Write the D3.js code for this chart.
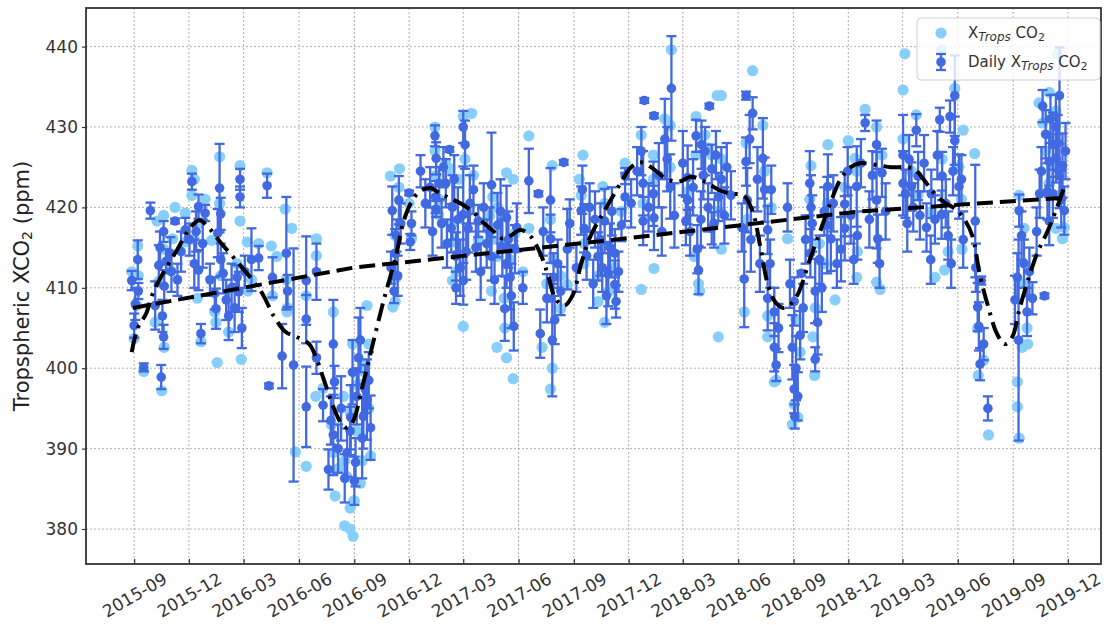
<!DOCTYPE html>
<html>
<head>
<meta charset="utf-8">
<script src="https://cdn.jsdelivr.net/npm/d3@7"></script>
<style>
  body { margin: 0; background: #fff; }
  svg { display: block; font-family: "DejaVu Sans", sans-serif; }
</style>
</head>
<body>
<svg id="chart" width="1104" height="625"></svg>
<script>
// quarter ticks on the time axis
const xTickDates = [
  "2015-09-01", "2015-12-01", "2016-03-01", "2016-06-01", "2016-09-01", "2016-12-01",
  "2017-03-01", "2017-06-01", "2017-09-01", "2017-12-01", "2018-03-01", "2018-06-01",
  "2018-09-01", "2018-12-01", "2019-03-01", "2019-06-01", "2019-09-01", "2019-12-01"
];
const yTicks = [380, 390, 400, 410, 420, 430, 440];

// single XTrops CO2 retrievals [date, ppm]
const singleObs = [
  ["2015-08-28", 412.0], ["2015-09-01", 403.7], ["2015-09-17", 399.6], ["2015-09-05", 407.8],
  ["2015-10-17", 397.2], ["2015-10-21", 402.6], ["2015-10-06", 405.7], ["2015-10-09", 418.3],
  ["2015-10-20", 414.8], ["2015-11-04", 416.1], ["2015-11-25", 419.3], ["2015-12-06", 424.6],
  ["2015-12-10", 423.5], ["2015-11-25", 415.7], ["2015-12-21", 403.3], ["2015-12-15", 408.7],
  ["2016-01-08", 415.9], ["2016-01-21", 426.3], ["2016-01-15", 405.7], ["2016-01-17", 400.7],
  ["2016-02-24", 425.2], ["2016-02-24", 418.3], ["2016-02-26", 401.1], ["2016-03-08", 409.6],
  ["2016-03-07", 415.7], ["2016-04-09", 424.3], ["2016-04-16", 415.2], ["2016-04-25", 413.9],
  ["2016-05-09", 419.8], ["2016-05-20", 417.4], ["2016-05-12", 407.0], ["2016-05-26", 389.6],
  ["2016-06-13", 387.8], ["2016-06-30", 416.1], ["2016-06-29", 396.5], ["2016-07-28", 407.0],
  ["2016-07-25", 393.0], ["2016-07-31", 384.1], ["2016-08-16", 380.4], ["2016-08-30", 379.1],
  ["2016-08-25", 382.6], ["2016-08-14", 396.5],
  ["2016-08-25", 380.0], ["2016-09-11", 385.7], ["2016-08-31", 383.5], ["2016-09-22", 407.8],
  ["2016-09-25", 403.0], ["2016-09-05", 392.2], ["2016-09-28", 389.1], ["2016-09-17", 399.6],
  ["2016-10-31", 423.9], ["2016-11-15", 424.8], ["2016-11-08", 408.3], ["2016-11-04", 407.6],
  ["2016-11-10", 411.3], ["2016-12-05", 416.1], ["2017-03-01", 431.3], ["2017-03-15", 431.7],
  ["2017-01-13", 430.0], ["2017-02-07", 424.8], ["2017-03-01", 405.2], ["2017-02-11", 410.9],
  ["2017-02-22", 423.5], ["2017-01-19", 419.1], ["2017-02-16", 415.7], ["2017-04-19", 421.3],
  ["2017-04-26", 413.9], ["2017-05-12", 424.3], ["2017-05-23", 423.5], ["2017-04-26", 402.6],
  ["2017-05-23", 398.7], ["2017-05-12", 401.3], ["2017-06-18", 428.9], ["2017-06-18", 417.4],
  ["2017-04-17", 409.6], ["2017-05-08", 408.7], ["2017-07-27", 425.2], ["2017-07-10", 402.6],
  ["2017-07-24", 397.4], ["2017-07-27", 400.0], ["2017-08-10", 407.4], ["2017-08-21", 410.4],
  ["2017-09-16", 426.5], ["2017-09-10", 423.5], ["2017-09-18", 413.0], ["2017-10-11", 408.3],
  ["2017-10-22", 405.7], ["2017-10-19", 422.6],
  ["2017-12-22", 409.8], ["2018-01-12", 412.4], ["2018-01-11", 426.5], ["2018-02-10", 439.6],
  ["2018-02-08", 430.2], ["2018-03-23", 431.3], ["2018-03-20", 413.9], ["2018-03-29", 409.6],
  ["2018-04-29", 403.9], ["2018-05-04", 414.8], ["2018-04-27", 433.9], ["2018-04-12", 427.4],
  ["2018-05-04", 433.9], ["2018-06-25", 437.0], ["2018-07-12", 430.2], ["2018-06-11", 407.0],
  ["2018-07-20", 403.9], ["2018-07-31", 398.3], ["2018-08-30", 393.0], ["2018-09-08", 393.9],
  ["2018-09-05", 406.1], ["2018-10-06", 399.1], ["2018-09-30", 425.2], ["2018-10-03", 403.9],
  ["2018-10-28", 427.8], ["2018-10-22", 413.0], ["2018-08-22", 416.1],
  ["2019-03-05", 439.1], ["2019-03-02", 434.6], ["2019-05-05", 439.6], ["2019-05-27", 434.8],
  ["2019-06-10", 429.6], ["2019-06-29", 426.7], ["2018-12-12", 426.1], ["2018-12-01", 428.3],
  ["2018-12-29", 432.2], ["2019-01-17", 410.7], ["2019-01-23", 409.8], ["2018-12-15", 411.3],
  ["2018-11-09", 408.5], ["2019-04-24", 411.3], ["2019-05-10", 412.2], ["2019-06-08", 414.8],
  ["2019-07-05", 399.1], ["2019-07-22", 391.7], ["2019-09-08", 398.3], ["2019-09-08", 395.2],
  ["2019-09-11", 391.3], ["2019-09-16", 402.6], ["2019-09-25", 403.0], ["2019-09-19", 417.4],
  ["2019-11-22", 416.1], ["2019-11-11", 417.4], ["2019-11-14", 439.1], ["2019-10-31", 434.3],
  ["2019-10-14", 433.0],
  // retrievals sitting behind the daily means
  ["2015-09-07", 415.2], ["2015-09-08", 411.5], ["2015-10-12", 410.8], ["2015-10-20", 419.0],
  ["2015-10-31", 412.2], ["2015-11-08", 420.0], ["2015-12-06", 421.5], ["2015-12-17", 418.0],
  ["2015-12-10", 416.0], ["2015-12-28", 421.0], ["2016-01-23", 411.5], ["2016-01-21", 420.5],
  ["2016-01-13", 407.0], ["2016-02-19", 413.0], ["2016-02-05", 404.5], ["2016-03-14", 411.0],
  ["2016-03-26", 415.5], ["2016-04-18", 409.0], ["2016-05-11", 411.0], ["2016-05-13", 407.5],
  ["2016-06-13", 409.0], ["2016-06-30", 414.0], ["2016-07-11", 397.5], ["2016-07-28", 389.5],
  ["2016-08-16", 388.5], ["2016-08-25", 394.5], ["2016-08-05", 387.5], ["2016-08-20", 386.5],
  ["2016-09-01", 383.5], ["2016-09-14", 388.5], ["2016-09-19", 400.5], ["2016-08-29", 403.0],
  ["2016-09-08", 398.0], ["2016-09-25", 395.0], ["2016-11-06", 411.5], ["2016-11-08", 416.5],
  ["2016-11-14", 422.5], ["2016-12-01", 420.5], ["2017-01-13", 427.0], ["2017-01-15", 424.0],
  ["2017-01-20", 421.0], ["2017-01-31", 425.5], ["2017-02-11", 418.0], ["2017-02-17", 412.0],
  ["2017-03-04", 426.0], ["2017-03-09", 419.5], ["2017-03-18", 424.0], ["2017-03-26", 416.0],
  ["2017-04-14", 419.0], ["2017-04-17", 416.0], ["2017-04-27", 420.0], ["2017-05-18", 413.5],
  ["2017-05-26", 416.8], ["2017-06-08", 412.0], ["2017-05-09", 405.0], ["2017-07-18", 410.5],
  ["2017-07-24", 418.5], ["2017-07-29", 413.5], ["2017-08-10", 411.5], ["2017-09-13", 421.5],
  ["2017-09-18", 415.5], ["2017-10-11", 411.5], ["2017-10-22", 420.5], ["2017-10-28", 409.5],
  ["2017-11-08", 412.5], ["2017-11-19", 419.5], ["2017-11-25", 425.5], ["2017-12-22", 429.0],
  ["2017-12-25", 420.5], ["2018-01-11", 423.5], ["2018-01-30", 431.0], ["2018-02-08", 425.0],
  ["2018-03-09", 422.0], ["2018-03-23", 426.5], ["2018-03-27", 410.5], ["2018-04-07", 429.0],
  ["2018-04-18", 426.5], ["2018-04-29", 419.5], ["2018-05-04", 426.0], ["2018-06-14", 428.0],
  ["2018-06-16", 418.5], ["2018-07-15", 424.5], ["2018-07-26", 420.0], ["2018-07-20", 406.5],
  ["2018-08-03", 398.5], ["2018-09-02", 395.5], ["2018-09-12", 402.0], ["2018-09-28", 421.0],
  ["2018-10-07", 407.5], ["2018-10-14", 415.5], ["2018-10-27", 420.5], ["2018-11-25", 422.5],
  ["2018-12-15", 424.5], ["2018-12-16", 414.5], ["2019-01-17", 430.0], ["2019-01-26", 426.5],
  ["2019-03-02", 428.5], ["2019-03-16", 424.5], ["2019-03-24", 431.5], ["2019-03-27", 421.5],
  ["2019-04-18", 419.5], ["2019-05-06", 426.0], ["2019-05-16", 414.5], ["2019-06-03", 425.0],
  ["2019-06-07", 421.0], ["2019-07-04", 405.0], ["2019-07-14", 401.0], ["2019-09-11", 421.5],
  ["2019-09-19", 410.5], ["2019-09-24", 405.0], ["2019-10-20", 430.5], ["2019-10-25", 427.0],
  ["2019-11-06", 425.5], ["2019-11-11", 432.0], ["2019-11-17", 421.5], ["2019-11-25", 417.5],
  ["2019-10-31", 423.0]
];

// daily means [date, ppm, error]
const dailyObs = [
  ["2015-08-28", 410.9, 1.2], ["2015-09-07", 413.5, 2.4], ["2015-09-08", 409.6, 1.0],
  ["2015-09-01", 405.3, 1.5], ["2015-09-17", 400.1, 0.5], ["2015-09-28", 419.6, 1.0],
  ["2015-10-06", 407.8, 3.0], ["2015-10-12", 412.8, 2.5], ["2015-10-16", 398.9, 1.5],
  ["2015-10-20", 417.0, 1.3], ["2015-10-21", 410.2, 2.0], ["2015-10-20", 403.9, 1.5],
  ["2015-10-31", 414.3, 2.0], ["2015-11-08", 418.3, 0.3], ["2015-11-25", 417.2, 1.5],
  ["2015-12-06", 423.2, 1.0], ["2015-12-17", 420.1, 1.5], ["2015-12-10", 413.0, 3.0],
  ["2015-12-17", 412.2, 2.5], ["2015-12-21", 404.3, 1.2], ["2015-12-28", 419.3, 1.0],
  ["2016-01-21", 422.4, 5.5], ["2016-01-23", 419.2, 2.0], ["2016-01-23", 413.5, 2.0],
  ["2016-01-15", 407.4, 2.5], ["2016-01-13", 409.3, 2.0], ["2016-02-05", 406.5, 3.0],
  ["2016-02-24", 423.5, 1.3], ["2016-02-24", 421.3, 1.3], ["2016-02-27", 405.0, 2.5],
  ["2016-02-19", 411.3, 1.5], ["2016-03-14", 413.5, 3.9], ["2016-03-26", 413.7, 1.5],
  ["2016-04-09", 422.7, 1.5], ["2016-04-12", 397.8, 0.3], ["2016-04-18", 411.3, 2.5],
  ["2016-05-04", 401.5, 4.0], ["2016-05-11", 414.3, 7.0], ["2016-05-13", 409.6, 2.0],
  ["2016-05-23", 400.4, 14.5], ["2016-06-13", 410.9, 5.5], ["2016-06-13", 406.1, 3.0],
  ["2016-06-13", 395.2, 5.0], ["2016-06-30", 412.0, 3.5], ["2016-06-30", 401.3, 2.0],
  ["2016-07-11", 395.4, 2.0], ["2016-07-28", 403.0, 5.5], ["2016-07-28", 391.7, 5.0],
  ["2016-07-20", 387.4, 2.5], ["2016-07-30", 398.3, 2.0], ["2016-08-16", 386.3, 3.0],
  ["2016-08-25", 392.2, 3.0],
  ["2015-09-03", 408.0, 2.0], ["2015-10-14", 415.0, 2.0], ["2015-10-18", 406.5, 2.0],
  ["2015-10-24", 413.3, 1.5], ["2015-11-02", 412.0, 2.5], ["2015-11-12", 411.0, 2.0],
  ["2015-11-18", 414.5, 2.5], ["2015-12-02", 416.0, 2.0], ["2015-12-13", 417.0, 2.5],
  ["2015-12-24", 415.5, 3.0], ["2016-01-05", 411.0, 2.0], ["2016-01-18", 416.8, 3.0],
  ["2016-01-27", 411.8, 2.5], ["2016-02-01", 408.5, 2.5], ["2016-02-10", 410.0, 3.0],
  ["2016-02-15", 407.5, 3.0], ["2016-02-22", 409.5, 2.5], ["2016-03-03", 412.0, 2.0],
  ["2016-08-05", 390.0, 3.0], ["2016-08-10", 395.0, 4.0], ["2016-08-20", 389.5, 3.0],
  ["2016-08-29", 399.5, 4.0], ["2016-09-01", 386.0, 3.0], ["2016-09-16", 394.0, 4.0],
  ["2016-09-25", 398.5, 3.5], ["2016-07-24", 393.5, 3.0],
  ["2016-08-26", 393.9, 4.0], ["2016-09-05", 396.5, 3.5], ["2016-09-08", 401.3, 5.0],
  ["2016-09-11", 403.5, 4.0], ["2016-09-19", 397.4, 3.0], ["2016-09-28", 392.6, 4.0],
  ["2016-09-03", 388.3, 3.0], ["2016-09-14", 391.3, 5.0], ["2016-09-22", 396.1, 5.0],
  ["2016-11-06", 409.6, 1.5], ["2016-11-08", 414.3, 3.0], ["2016-11-03", 419.6, 3.0],
  ["2016-11-10", 416.5, 2.0], ["2016-11-14", 420.9, 3.0], ["2016-12-01", 421.8, 0.3],
  ["2016-12-05", 418.0, 1.5], ["2016-12-03", 415.7, 1.0], ["2017-01-13", 428.9, 1.3],
  ["2017-01-15", 426.1, 2.0], ["2017-02-06", 427.2, 0.3], ["2017-01-14", 421.3, 2.0],
  ["2017-01-15", 419.8, 1.0], ["2017-01-20", 423.0, 2.0], ["2017-01-31", 423.0, 3.0],
  ["2017-02-11", 420.0, 4.0], ["2017-02-09", 417.4, 3.0], ["2017-02-17", 413.9, 3.0],
  ["2017-03-01", 430.0, 2.0], ["2017-03-04", 427.8, 3.0], ["2017-03-01", 419.1, 6.0],
  ["2017-03-01", 410.9, 3.0], ["2017-03-09", 417.4, 3.0], ["2017-03-18", 422.2, 3.0],
  ["2017-03-26", 418.3, 2.0], ["2017-02-17", 410.0, 2.0], ["2017-04-17", 422.8, 6.5],
  ["2017-04-14", 417.0, 3.0], ["2017-04-17", 413.9, 3.0], ["2017-04-27", 417.8, 4.0],
  ["2017-05-12", 418.7, 4.0], ["2017-05-09", 407.4, 4.0], ["2017-05-18", 411.3, 4.0],
  ["2017-05-24", 405.2, 3.0], ["2017-05-26", 414.8, 3.0], ["2017-06-08", 410.0, 2.0],
  ["2017-06-18", 423.3, 4.0], ["2017-07-04", 421.7, 0.3], ["2017-05-12", 413.0, 3.0],
  ["2016-11-01", 412.5, 2.0], ["2016-11-12", 411.5, 2.5], ["2016-11-17", 418.0, 2.5],
  ["2016-12-20", 424.5, 2.0], ["2016-12-28", 420.5, 3.0], ["2017-01-05", 422.5, 2.5],
  ["2017-01-09", 417.0, 3.0], ["2017-01-24", 418.0, 3.0], ["2017-01-27", 425.0, 2.5],
  ["2017-02-02", 415.5, 3.0], ["2017-02-14", 423.5, 3.0], ["2017-02-20", 418.5, 4.0],
  ["2017-02-24", 412.5, 3.5], ["2017-03-06", 414.5, 3.5], ["2017-03-12", 420.5, 3.5],
  ["2017-03-22", 415.0, 3.0], ["2017-03-30", 412.0, 3.5], ["2017-04-04", 420.0, 3.0],
  ["2017-04-09", 415.5, 3.0], ["2017-04-22", 411.0, 3.0], ["2017-05-02", 419.5, 4.0],
  ["2017-05-05", 415.0, 3.5], ["2017-05-15", 416.0, 3.5], ["2017-05-20", 409.0, 4.0],
  ["2017-05-29", 417.5, 3.0],
  ["2017-07-07", 404.3, 3.0], ["2017-07-18", 408.7, 3.0], ["2017-07-24", 420.9, 4.0],
  ["2017-07-24", 416.1, 3.0], ["2017-07-27", 403.5, 7.0], ["2017-07-29", 411.3, 3.0],
  ["2017-08-15", 425.6, 0.3], ["2017-08-10", 409.6, 3.0], ["2017-08-21", 414.8, 5.0],
  ["2017-09-13", 419.6, 3.0], ["2017-09-15", 422.2, 3.0], ["2017-09-18", 417.4, 3.0],
  ["2017-10-11", 413.9, 3.0], ["2017-10-22", 418.3, 4.0], ["2017-10-28", 411.7, 4.0],
  ["2017-10-15", 416.0, 4.5], ["2017-10-25", 409.0, 3.5],
  ["2017-07-12", 417.0, 3.0], ["2017-07-31", 406.0, 3.0], ["2017-08-05", 413.0, 3.0],
  ["2017-08-25", 418.0, 3.0], ["2017-09-05", 412.5, 3.0], ["2017-09-22", 414.0, 3.0],
  ["2017-09-27", 420.0, 3.0], ["2017-10-03", 410.5, 3.0], ["2017-10-06", 418.5, 3.5],
  ["2017-10-18", 412.5, 3.0], ["2017-10-31", 415.0, 3.0], ["2017-11-03", 419.5, 3.0],
  ["2017-11-14", 412.0, 2.5],
  ["2017-11-08", 414.3, 3.0], ["2017-11-08", 410.4, 3.0], ["2017-11-10", 408.3, 2.0],
  ["2017-11-19", 417.8, 2.0], ["2017-11-25", 421.3, 3.0], ["2017-11-25", 423.9, 1.0],
  ["2017-12-22", 427.0, 3.0], ["2017-12-25", 423.0, 4.0], ["2017-12-25", 418.3, 3.0],
  ["2017-12-27", 433.3, 0.3], ["2018-01-12", 431.4, 0.3], ["2018-01-11", 421.7, 4.0],
  ["2018-01-12", 418.7, 4.0], ["2018-01-30", 428.5, 5.0], ["2018-02-10", 434.8, 6.5],
  ["2018-02-08", 422.6, 4.0], ["2018-03-09", 423.7, 4.0], ["2018-03-06", 418.3, 3.0],
  ["2018-03-09", 420.9, 3.0], ["2018-03-23", 428.9, 2.0], ["2018-03-25", 414.8, 3.0],
  ["2018-03-27", 412.2, 3.0], ["2018-04-01", 427.8, 3.0], ["2018-04-07", 427.0, 3.0],
  ["2018-04-14", 432.6, 0.3], ["2018-04-12", 420.0, 3.0], ["2018-04-18", 424.8, 3.0],
  ["2018-04-29", 421.3, 3.0], ["2018-05-04", 423.5, 4.0], ["2018-04-18", 417.4, 2.0],
  ["2017-12-05", 420.5, 3.0], ["2017-12-15", 424.5, 3.0], ["2018-01-03", 420.0, 3.0],
  ["2018-01-20", 424.0, 4.0], ["2018-01-25", 417.0, 3.0], ["2018-02-03", 426.0, 4.0],
  ["2018-02-15", 419.0, 4.0], ["2018-03-01", 425.5, 4.0], ["2018-03-13", 417.0, 3.0],
  ["2018-03-18", 422.5, 3.5], ["2018-03-31", 418.5, 3.5], ["2018-04-04", 424.0, 3.0],
  ["2018-04-22", 418.0, 3.0], ["2018-04-25", 426.5, 3.0], ["2018-05-09", 419.0, 3.5],
  ["2018-05-13", 425.0, 3.0], ["2018-05-20", 421.5, 3.0],
  ["2018-06-14", 433.9, 0.5], ["2018-06-25", 431.7, 2.0], ["2018-06-14", 425.7, 3.0],
  ["2018-06-16", 420.9, 4.0], ["2018-07-12", 426.1, 5.0], ["2018-07-15", 422.2, 4.0],
  ["2018-07-26", 422.2, 3.0], ["2018-06-11", 411.1, 6.0], ["2018-07-20", 408.7, 4.0],
  ["2018-07-31", 407.0, 3.0], ["2018-07-20", 417.2, 3.0], ["2018-07-31", 402.6, 3.0],
  ["2018-08-03", 400.4, 2.0], ["2018-08-22", 420.0, 3.0], ["2018-09-02", 408.3, 3.0],
  ["2018-08-30", 402.6, 4.0], ["2018-09-05", 400.0, 4.0], ["2018-09-02", 397.4, 3.0],
  ["2018-09-08", 396.5, 3.0], ["2018-09-03", 394.0, 1.5], ["2018-09-12", 404.1, 3.0],
  ["2018-09-14", 411.8, 0.3], ["2018-09-28", 423.0, 4.0], ["2018-09-30", 420.0, 4.0],
  ["2018-09-29", 414.3, 3.0], ["2018-10-07", 409.6, 4.0], ["2018-10-11", 405.7, 4.0],
  ["2018-10-07", 401.1, 1.5], ["2018-10-14", 413.5, 3.0], ["2018-10-27", 417.8, 6.0],
  ["2018-10-28", 422.6, 4.0], ["2018-11-02", 416.1, 4.0],
  ["2018-06-07", 417.5, 3.0], ["2018-06-20", 428.5, 3.0], ["2018-06-22", 416.0, 4.0],
  ["2018-07-03", 423.5, 4.0], ["2018-07-07", 413.0, 3.5], ["2018-07-24", 413.0, 3.0],
  ["2018-08-07", 405.0, 3.0], ["2018-08-26", 410.5, 3.0], ["2018-09-17", 407.5, 3.0],
  ["2018-09-21", 416.0, 3.0], ["2018-10-02", 418.0, 3.5], ["2018-10-18", 410.0, 3.0],
  ["2018-10-22", 419.5, 3.0], ["2018-11-06", 420.5, 3.5], ["2018-11-12", 413.0, 3.0],
  ["2018-11-25", 420.4, 4.0], ["2018-11-25", 417.4, 4.0], ["2018-11-19", 414.8, 4.0],
  ["2018-12-15", 422.6, 5.0], ["2018-12-16", 416.5, 3.0], ["2018-12-29", 430.5, 1.0],
  ["2019-01-17", 427.8, 3.0], ["2019-01-17", 420.9, 6.0], ["2019-01-19", 416.1, 3.0],
  ["2019-01-26", 424.3, 3.0], ["2019-03-02", 426.5, 5.0], ["2019-03-02", 423.0, 4.0],
  ["2019-03-06", 421.7, 3.0], ["2019-03-16", 422.6, 3.0], ["2019-03-24", 429.6, 2.0],
  ["2019-03-19", 420.0, 3.0], ["2019-03-27", 423.9, 3.0], ["2019-04-17", 413.5, 3.0],
  ["2019-04-18", 421.7, 3.0], ["2019-05-02", 430.9, 1.5], ["2019-05-06", 423.9, 3.0],
  ["2019-05-05", 419.1, 3.0], ["2019-05-16", 416.5, 3.0], ["2019-05-19", 431.3, 2.0],
  ["2019-05-21", 413.0, 3.0], ["2019-05-27", 433.9, 5.0], ["2019-05-27", 428.3, 3.0],
  ["2019-06-03", 422.6, 4.0], ["2019-06-07", 423.5, 3.0], ["2019-06-30", 418.3, 7.0],
  ["2018-11-30", 424.5, 3.0], ["2018-12-05", 419.0, 3.5], ["2018-12-10", 413.5, 3.0],
  ["2018-12-22", 425.5, 3.0], ["2019-01-05", 418.5, 3.5], ["2019-01-10", 424.0, 3.0],
  ["2019-01-22", 413.0, 3.0], ["2019-02-01", 419.5, 3.5], ["2019-03-09", 418.0, 3.5],
  ["2019-03-12", 426.0, 3.0], ["2019-03-30", 419.0, 3.0], ["2019-04-06", 425.5, 3.5],
  ["2019-04-10", 417.5, 3.0], ["2019-04-24", 418.5, 3.0], ["2019-04-28", 426.5, 3.0],
  ["2019-05-12", 420.5, 3.0], ["2019-05-24", 424.5, 3.0], ["2019-06-10", 416.0, 3.5],
  ["2019-07-10", 410.9, 0.5], ["2019-07-04", 407.6, 3.0], ["2019-07-06", 405.2, 3.0],
  ["2019-07-14", 403.0, 2.0], ["2019-07-21", 395.0, 1.5], ["2019-09-11", 419.6, 2.0],
  ["2019-09-08", 411.3, 3.0], ["2019-09-10", 403.5, 12.5], ["2019-09-19", 413.0, 3.0],
  ["2019-09-24", 407.0, 3.0], ["2019-10-03", 408.7, 2.0], ["2019-10-23", 409.0, 0.3],
  ["2019-10-15", 421.7, 3.0], ["2019-10-20", 432.6, 2.0], ["2019-10-25", 429.1, 3.0],
  ["2019-10-31", 425.7, 3.0], ["2019-11-06", 427.8, 4.0], ["2019-11-11", 430.0, 4.0],
  ["2019-11-17", 433.9, 6.0], ["2019-11-17", 423.9, 4.0], ["2019-11-22", 425.2, 4.0],
  ["2019-11-25", 419.6, 3.0], ["2019-11-06", 421.7, 3.0], ["2019-11-11", 426.1, 3.0],
  ["2019-10-31", 418.3, 3.0],
  ["2019-07-01", 412.5, 3.0], ["2019-07-08", 400.5, 2.0], ["2019-09-04", 408.5, 3.0],
  ["2019-09-15", 416.5, 3.0], ["2019-09-28", 412.0, 3.0], ["2019-10-10", 417.0, 3.0],
  ["2019-10-18", 424.5, 3.0], ["2019-10-28", 422.0, 3.5], ["2019-11-02", 431.0, 3.0],
  ["2019-11-14", 428.0, 3.5], ["2019-11-20", 421.0, 3.5], ["2019-11-27", 427.0, 3.5]
];

// seasonal fit (dash-dot)
const seasonalFit = [
  ["2015-08-28", 402.0], ["2015-09-07", 405.0], ["2015-09-21", 406.8], ["2015-10-02", 409.3],
  ["2015-10-19", 411.8], ["2015-11-12", 414.8], ["2015-12-01", 417.2], ["2015-12-18", 418.4],
  ["2016-01-05", 417.3], ["2016-01-23", 415.6], ["2016-02-14", 413.7], ["2016-03-13", 411.2],
  ["2016-04-01", 409.3], ["2016-04-20", 406.5], ["2016-05-10", 404.5], ["2016-05-28", 403.9],
  ["2016-06-18", 403.0], ["2016-07-01", 401.0], ["2016-07-14", 398.2], ["2016-07-28", 395.2],
  ["2016-08-10", 393.2], ["2016-08-20", 392.6], ["2016-08-30", 393.4], ["2016-09-13", 397.3],
  ["2016-09-30", 402.5], ["2016-10-20", 408.5], ["2016-11-09", 413.9], ["2016-11-22", 418.3],
  ["2016-12-05", 420.7], ["2016-12-19", 422.0], ["2017-01-05", 422.4], ["2017-01-22", 421.7],
  ["2017-02-08", 421.1], ["2017-02-27", 420.4], ["2017-03-19", 419.3], ["2017-04-05", 418.0],
  ["2017-04-21", 417.0], ["2017-05-06", 416.1], ["2017-05-19", 416.5], ["2017-06-04", 417.2],
  ["2017-06-20", 416.5], ["2017-07-07", 414.3], ["2017-07-21", 411.3], ["2017-08-01", 408.7],
  ["2017-08-16", 407.8], ["2017-08-30", 409.1], ["2017-09-13", 413.0], ["2017-09-29", 416.5],
  ["2017-10-22", 419.6], ["2017-11-19", 423.2], ["2017-12-05", 425.0], ["2017-12-22", 425.6],
  ["2018-01-11", 424.8], ["2018-01-31", 423.6], ["2018-02-22", 423.2], ["2018-03-15", 423.8],
  ["2018-04-07", 423.2], ["2018-04-29", 422.2], ["2018-05-20", 421.7], ["2018-06-10", 421.5],
  ["2018-06-25", 419.5], ["2018-07-08", 415.0], ["2018-07-20", 410.5], ["2018-08-01", 408.3],
  ["2018-08-15", 407.5], ["2018-08-28", 408.0], ["2018-09-10", 409.5], ["2018-09-28", 413.5],
  ["2018-10-15", 417.0], ["2018-11-01", 420.5], ["2018-11-18", 423.5], ["2018-12-05", 425.0],
  ["2018-12-20", 425.5], ["2019-01-15", 425.3], ["2019-02-10", 425.0], ["2019-03-05", 425.0],
  ["2019-03-20", 424.8], ["2019-04-05", 423.5], ["2019-04-20", 422.0], ["2019-05-10", 420.6],
  ["2019-05-28", 419.8], ["2019-06-12", 418.5], ["2019-06-25", 416.5], ["2019-07-08", 411.5],
  ["2019-07-22", 407.5], ["2019-08-05", 404.3], ["2019-08-18", 403.0], ["2019-08-30", 403.8],
  ["2019-09-12", 407.5], ["2019-09-28", 411.5], ["2019-10-12", 414.5], ["2019-10-28", 417.0],
  ["2019-11-12", 419.8], ["2019-11-27", 423.0]
];

// long-term trend (dashed)
const trendFit = [
  ["2015-08-30", 407.5], ["2016-08-30", 412.5], ["2017-11-10", 416.0],
  ["2018-12-20", 419.5], ["2019-11-25", 421.2]
];

const parse = d3.utcParse("%Y-%m-%d");
const svg = d3.select("#chart");

const plot = { left: 86, right: 1101, top: 8, bottom: 564 };

const x = d3.scaleUtc()
  .domain([parse("2015-06-13"), parse("2020-01-25")])
  .range([plot.left, plot.right]);
const y = d3.scaleLinear()
  .domain([375.65, 444.8])
  .range([plot.bottom, plot.top]);

const LIGHT = "#87cefa";
const DARK = "#4169e1";
const INK = "#333";

svg.append("rect").attr("width", 1104).attr("height", 625).attr("fill", "#fff");

svg.append("defs").append("clipPath").attr("id", "plot-clip")
  .append("rect")
  .attr("x", plot.left).attr("y", plot.top)
  .attr("width", plot.right - plot.left).attr("height", plot.bottom - plot.top);

// Grid
const grid = svg.append("g").attr("class", "grid");
grid.selectAll("line.gx")
  .data(xTickDates)
  .join("line")
  .attr("x1", (d) => x(parse(d))).attr("x2", (d) => x(parse(d)))
  .attr("y1", plot.top).attr("y2", plot.bottom);
grid.selectAll("line.gy")
  .data(yTicks)
  .join("line")
  .attr("x1", plot.left).attr("x2", plot.right)
  .attr("y1", (d) => y(d)).attr("y2", (d) => y(d));
grid.selectAll("line")
  .attr("stroke", "#a8a8a8")
  .attr("stroke-width", 0.9)
  .attr("stroke-dasharray", "2,2");

const data = svg.append("g").attr("clip-path", "url(#plot-clip)");

// single retrievals
data.append("g")
  .selectAll("circle")
  .data(singleObs)
  .join("circle")
  .attr("cx", (d) => x(parse(d[0])))
  .attr("cy", (d) => y(d[1]))
  .attr("r", 5.6)
  .attr("fill", LIGHT);

// daily means with error bars
const bars = data.append("g").attr("stroke", DARK).attr("stroke-width", 2.3);
dailyObs.forEach((d) => {
  const cx = x(parse(d[0]));
  const y0 = y(d[1] - d[2]);
  const y1 = y(d[1] + d[2]);
  bars.append("line").attr("x1", cx).attr("x2", cx).attr("y1", y0).attr("y2", y1);
  bars.append("line").attr("x1", cx - 5).attr("x2", cx + 5).attr("y1", y0).attr("y2", y0);
  bars.append("line").attr("x1", cx - 5).attr("x2", cx + 5).attr("y1", y1).attr("y2", y1);
});
data.append("g")
  .selectAll("circle")
  .data(dailyObs)
  .join("circle")
  .attr("cx", (d) => x(parse(d[0])))
  .attr("cy", (d) => y(d[1]))
  .attr("r", 4.8)
  .attr("fill", DARK);

// Fits
const line = d3.line()
  .x((d) => x(parse(d[0])))
  .y((d) => y(d[1]));

data.append("path")
  .datum(trendFit)
  .attr("d", line)
  .attr("fill", "none")
  .attr("stroke", "#000")
  .attr("stroke-width", 4)
  .attr("stroke-dasharray", "16,7");

data.append("path")
  .datum(seasonalFit)
  .attr("d", line.curve(d3.curveCatmullRom.alpha(0.5)))
  .attr("fill", "none")
  .attr("stroke", "#000")
  .attr("stroke-width", 4)
  .attr("stroke-dasharray", "18,7,3,7");

// Axes
const xAxis = svg.append("g")
  .attr("transform", `translate(0,${plot.bottom})`)
  .call(d3.axisBottom(x)
    .tickValues(xTickDates.map(parse))
    .tickFormat(d3.utcFormat("%Y-%m"))
    .tickSizeInner(-5)
    .tickSizeOuter(0));
xAxis.select(".domain").remove();
xAxis.selectAll(".tick line").attr("stroke", INK).attr("stroke-width", 1.2);
xAxis.selectAll(".tick text")
  .attr("y", 0).attr("dy", null)
  .attr("transform", "translate(0,31) rotate(-30)")
  .attr("text-anchor", "middle")
  .attr("dominant-baseline", "central")
  .attr("fill", INK)
  .style("font-size", "17px")
  .style("font-family", "DejaVu Sans, sans-serif");

const yAxis = svg.append("g")
  .attr("transform", `translate(${plot.left},0)`)
  .call(d3.axisLeft(y)
    .tickValues(yTicks)
    .tickFormat(d3.format("d"))
    .tickSizeInner(4)
    .tickSizeOuter(0)
    .tickPadding(4));
yAxis.select(".domain").remove();
yAxis.selectAll(".tick line").attr("stroke", INK).attr("stroke-width", 1.2);
yAxis.selectAll(".tick text")
  .attr("fill", INK)
  .style("font-size", "17px")
  .style("font-family", "DejaVu Sans, sans-serif");

// Frame
svg.append("rect")
  .attr("x", plot.left).attr("y", plot.top)
  .attr("width", plot.right - plot.left).attr("height", plot.bottom - plot.top)
  .attr("fill", "none")
  .attr("stroke", INK)
  .attr("stroke-width", 1.8);

// Y label
const yLabel = svg.append("text")
  .attr("transform", `translate(22,${(plot.top + plot.bottom) / 2}) rotate(-90)`)
  .attr("text-anchor", "middle")
  .attr("dominant-baseline", "central")
  .attr("fill", "#222")
  .style("font-size", "21px");
yLabel.append("tspan").text("Tropspheric XCO");
yLabel.append("tspan").attr("dy", 5).style("font-size", "14px").text("2");
yLabel.append("tspan").attr("dy", -5).text(" (ppm)");

// Legend
const legend = svg.append("g").attr("transform", "translate(917,18)");
legend.append("rect")
  .attr("width", 183).attr("height", 62)
  .attr("rx", 4)
  .attr("fill", "#fff").attr("fill-opacity", 0.8)
  .attr("stroke", "#d0d0d0");

legend.append("circle").attr("cx", 24).attr("cy", 15).attr("r", 5.6).attr("fill", LIGHT);

const lg = legend.append("g").attr("stroke", DARK).attr("stroke-width", 2.3);
lg.append("line").attr("x1", 24).attr("x2", 24).attr("y1", 36).attr("y2", 52);
lg.append("line").attr("x1", 19).attr("x2", 29).attr("y1", 36).attr("y2", 36);
lg.append("line").attr("x1", 19).attr("x2", 29).attr("y1", 52).attr("y2", 52);
legend.append("circle").attr("cx", 24).attr("cy", 44).attr("r", 4.8).attr("fill", DARK);

function legendLabel(g, ty, prefix) {
  const t = g.append("text")
    .attr("x", 51).attr("y", ty)
    .attr("fill", INK)
    .style("font-size", "15px");
  t.append("tspan").text(prefix + "X");
  t.append("tspan").attr("dy", 3).style("font-style", "italic").style("font-size", "12px").text("Trops");
  t.append("tspan").attr("dy", -3).text(" CO");
  t.append("tspan").attr("dy", 3).style("font-size", "11px").text("2");
}
legendLabel(legend, 20, "");
legendLabel(legend, 49, "Daily ");
</script>
</body>
</html>
